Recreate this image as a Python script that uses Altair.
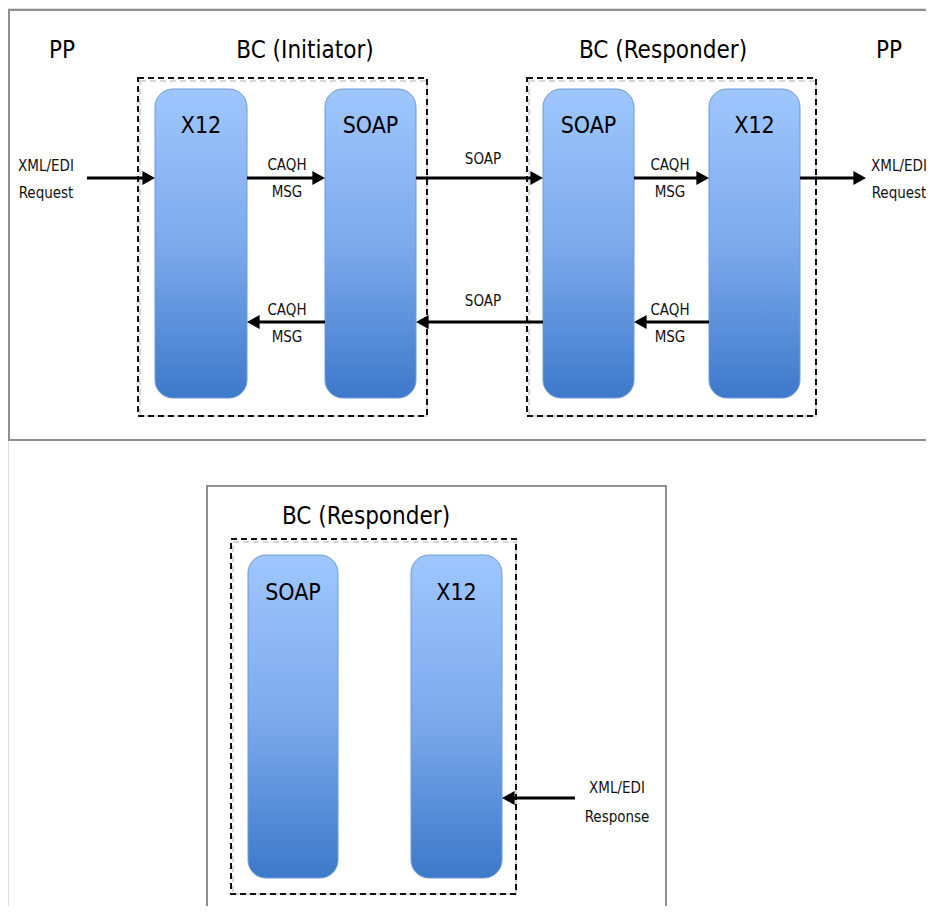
import altair as alt
import pandas as pd

FONT = "'Liberation Sans Narrow', 'DejaVu Sans Condensed', Lato, sans-serif"

# ---- diagram data (pixel coordinates of the reference picture) ----
panel_x0 = [9, 207]
panel_x1 = [960, 666]
panel_y0 = [10, 486]
panel_y1 = [440, 960]

group_x0 = [138, 527, 231]
group_x1 = [427, 816, 516]
group_y0 = [78, 78, 539]
group_y1 = [416, 416, 894]

box_label = ["X12", "SOAP", "SOAP", "X12", "SOAP", "X12"]
box_x0 = [155, 325, 543, 709, 248, 411]
box_x1 = [247, 416, 634, 800, 338, 502]
box_y0 = [89, 89, 89, 89, 555, 555]
box_y1 = [398, 398, 398, 398, 878, 878]
box_text_y = [133, 133, 133, 133, 600, 600]

arrow_from = [87, 247, 416, 634, 800, 325, 543, 709, 575]
arrow_to = [155, 325, 543, 709, 866, 247, 416, 634, 502]
arrow_y = [178, 178, 178, 178, 178, 322, 322, 322, 798]

title_text = ["PP", "BC (Initiator)", "BC (Responder)", "PP", "BC (Responder)"]
title_x = [62, 305, 663, 889, 366]
title_y = [58, 58, 58, 58, 524]

label_text = ["XML/EDI", "Request", "CAQH", "MSG", "SOAP", "CAQH", "MSG",
              "XML/EDI", "Request", "CAQH", "MSG", "SOAP", "CAQH", "MSG",
              "XML/EDI", "Response"]
label_x = [46, 46, 287, 287, 483, 670, 670, 899, 899, 287, 287, 483, 670, 670, 617, 617]
label_y = [171, 198, 170, 197, 164, 170, 197, 171, 198, 315, 342, 306, 315, 342, 793, 822]

# ---- tables ----
panels = pd.DataFrame({"x0": panel_x0, "x1": panel_x1, "y0": panel_y0, "y1": panel_y1})
groups = pd.DataFrame({"x0": group_x0, "x1": group_x1, "y0": group_y0, "y1": group_y1})
boxes = pd.DataFrame({"label": box_label, "x0": box_x0, "x1": box_x1,
                      "y0": box_y0, "y1": box_y1, "ty": box_text_y})
boxes["cx"] = (boxes["x0"] + boxes["x1"]) / 2
arrows = pd.DataFrame({"a": arrow_from, "b": arrow_to, "y": arrow_y})
arrows["dir"] = ["right" if b > a else "left" for a, b in zip(arrow_from, arrow_to)]
arrows["b_line"] = [b - 8 if b > a else b + 8 for a, b in zip(arrow_from, arrow_to)]
titles = pd.DataFrame({"t": title_text, "x": title_x, "y": title_y})
labels = pd.DataFrame({"t": label_text, "x": label_x, "y": label_y})

W, H = 918, 898
xs = alt.Scale(domain=[8, 8 + W], nice=False, zero=False)
ys = alt.Scale(domain=[8, 8 + H], nice=False, zero=False, reverse=True)


def X(f):
    return alt.X(f, type="quantitative", scale=xs, axis=None)


def Y(f):
    return alt.Y(f, type="quantitative", scale=ys, axis=None)


panel_layer = alt.Chart(panels).mark_rect(
    fillOpacity=0, stroke="#8f8f8f", strokeWidth=2
).encode(x=X("x0"), x2="x1", y=Y("y0"), y2="y1")

group_shadow = alt.Chart(groups).mark_rect(
    fillOpacity=0, stroke="#d8d8d8", strokeWidth=2, strokeDash=[6, 4],
    xOffset=2, yOffset=3
).encode(x=X("x0"), x2="x1", y=Y("y0"), y2="y1")

group_layer = alt.Chart(groups).mark_rect(
    fillOpacity=0, stroke="#111111", strokeWidth=2, strokeDash=[6, 4]
).encode(x=X("x0"), x2="x1", y=Y("y0"), y2="y1")

box_shadow = alt.Chart(boxes).mark_rect(
    fill="#8a8a8a", opacity=0.4, cornerRadius=18, xOffset=2, yOffset=3
).encode(x=X("x0"), x2="x1", y=Y("y0"), y2="y1")

grad = alt.Gradient(
    gradient="linear",
    stops=[alt.GradientStop(color="#9fc6fd", offset=0),
           alt.GradientStop(color="#7eaaec", offset=0.5),
           alt.GradientStop(color="#3d79ca", offset=1)],
    x1=0, x2=0, y1=0, y2=1,
)
box_layer = alt.Chart(boxes).mark_rect(
    fill=grad, cornerRadius=18, stroke="#6f9ad8", strokeWidth=1
).encode(x=X("x0"), x2="x1", y=Y("y0"), y2="y1")

box_text = alt.Chart(boxes).mark_text(
    font=FONT, fontSize=23, color="#000000", baseline="alphabetic", align="center"
).encode(x=X("cx"), y=Y("ty"), text="label:N")

arrow_lines = alt.Chart(arrows).mark_rule(
    color="black", strokeWidth=3
).encode(x=X("a"), x2="b_line", y=Y("y"))

head_r = alt.Chart(arrows).transform_filter("datum.dir == 'right'").mark_point(
    shape="M 0 0 L -1.8 -1 L -1.8 1 Z", filled=True, color="black", opacity=1, size=196
).encode(x=X("b"), y=Y("y"))

head_l = alt.Chart(arrows).transform_filter("datum.dir == 'left'").mark_point(
    shape="M 0 0 L 1.8 -1 L 1.8 1 Z", filled=True, color="black", opacity=1, size=196
).encode(x=X("b"), y=Y("y"))

title_layer = alt.Chart(titles).mark_text(
    font=FONT, fontSize=24, color="#000000", baseline="alphabetic", align="center"
).encode(x=X("x"), y=Y("y"), text="t:N")

label_layer = alt.Chart(labels).mark_text(
    font=FONT, fontSize=15, color="#111111", baseline="alphabetic", align="center"
).encode(x=X("x"), y=Y("y"), text="t:N")

chart = alt.layer(
    panel_layer, group_shadow, group_layer, box_shadow, box_layer, box_text,
    arrow_lines, head_r, head_l, title_layer, label_layer
).properties(
    width=W, height=H, padding=0, autosize=alt.AutoSizeParams(type="none")
).configure_view(stroke=None).configure(background="white")

chart.save("out.html", embed_options={"renderer": "svg", "actions": False})
